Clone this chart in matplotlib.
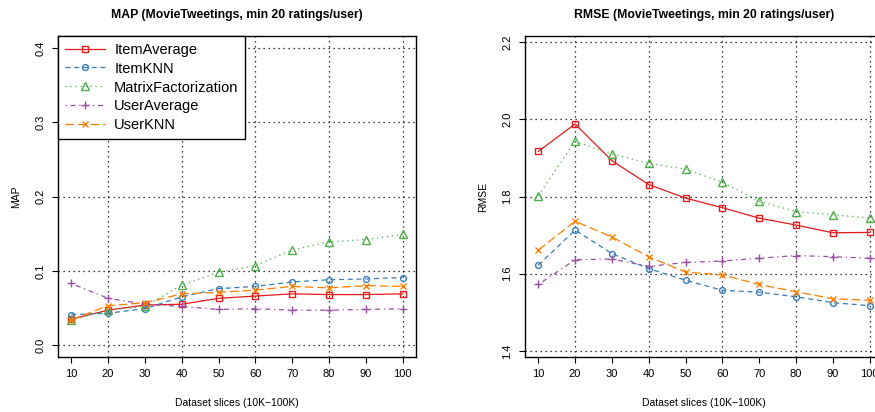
import numpy as np
import matplotlib.pyplot as plt

plt.rcParams['font.family'] = ['Liberation Sans', 'DejaVu Sans']

# Dataset slices
slices = [10, 20, 30, 40, 50, 60, 70, 80, 90, 100]
methods = ['ItemAverage', 'ItemKNN', 'MatrixFactorization', 'UserAverage', 'UserKNN']

# MAP values
map_item_avg = [0.035, 0.047, 0.054, 0.055, 0.063, 0.066, 0.069, 0.068, 0.068, 0.069]
map_item_knn = [0.041, 0.043, 0.049, 0.065, 0.076, 0.079, 0.085, 0.088, 0.089, 0.091]
map_mf = [0.034, 0.047, 0.052, 0.081, 0.098, 0.107, 0.128, 0.139, 0.142, 0.149]
map_user_avg = [0.083, 0.063, 0.055, 0.052, 0.048, 0.049, 0.047, 0.047, 0.048, 0.049]
map_user_knn = [0.034, 0.053, 0.057, 0.069, 0.071, 0.074, 0.079, 0.077, 0.080, 0.079]

# RMSE values
rmse_item_avg = [1.917, 1.988, 1.893, 1.831, 1.796, 1.771, 1.744, 1.726, 1.706, 1.707]
rmse_item_knn = [1.622, 1.713, 1.652, 1.613, 1.583, 1.557, 1.552, 1.540, 1.525, 1.517]
rmse_mf = [1.802, 1.943, 1.910, 1.886, 1.871, 1.837, 1.788, 1.761, 1.753, 1.744]
rmse_user_avg = [1.572, 1.636, 1.638, 1.619, 1.629, 1.633, 1.640, 1.647, 1.644, 1.640]
rmse_user_knn = [1.661, 1.736, 1.695, 1.644, 1.604, 1.597, 1.572, 1.553, 1.535, 1.531]

colors = ['#E41A1C', '#377EB8', '#4DAF4A', '#984EA3', '#FF7F00']
markers = ['s', 'o', '^', '+', 'x']
msizes = [4.2, 4.2, 5.2, 6, 5]
dashes = [(), (4, 3), (1, 3), (1, 3, 4, 3), (7, 3)]

fig = plt.figure(figsize=(8.75, 4.12), dpi=100)
ax1 = fig.add_axes([0.0663, 0.1335, 0.409, 0.779])
ax2 = fig.add_axes([0.600, 0.1335, 0.409, 0.779])


def draw(ax, series, ylim, yticks, ylabel, title):
    for vals, name, c, m, ms, d in zip(series, methods, colors, markers, msizes, dashes):
        ln, = ax.plot(slices, vals, color=c, marker=m, markersize=ms,
                      markerfacecolor='none', markeredgewidth=1.0,
                      lw=0.9, label=name, zorder=3)
        if d:
            ln.set_dashes(d)
    ax.set_xlim(6.4, 103.6)
    ax.set_ylim(*ylim)
    ax.set_xticks(slices)
    ax.set_yticks(yticks)
    ax.set_yticklabels([f'{t:.1f}' for t in yticks], rotation=90, va='center')
    ax.tick_params(labelsize=8, length=4, width=0.8, colors='black', pad=5)
    # dotted grid like R's grid()
    for gx in [20, 40, 60, 80, 100]:
        ax.axvline(gx, color='black', lw=0.9, dashes=(1, 3), zorder=1)
    for gy in yticks:
        ax.axhline(gy, color='black', lw=0.9, dashes=(1, 3), zorder=1)
    for s in ax.spines.values():
        s.set_linewidth(1.0)
    ax.set_xlabel('Dataset slices (10K\u2212100K)', fontsize=7.5, labelpad=13)
    ax.set_ylabel(ylabel, fontsize=7.5, labelpad=10)
    ax.set_title(title, fontsize=8.8, fontweight='bold', pad=13)


draw(ax1, [map_item_avg, map_item_knn, map_mf, map_user_avg, map_user_knn],
     (-0.016, 0.416), [0.0, 0.1, 0.2, 0.3, 0.4], 'MAP',
     'MAP (MovieTweetings, min 20 ratings/user)')
draw(ax2, [rmse_item_avg, rmse_item_knn, rmse_mf, rmse_user_avg, rmse_user_knn],
     (1.384, 2.216), [1.4, 1.6, 1.8, 2.0, 2.2], 'RMSE',
     'RMSE (MovieTweetings, min 20 ratings/user)')

leg = ax1.legend(loc='upper left', borderaxespad=0, fontsize=10.5,
                 handlelength=2.75, handletextpad=0.65, labelspacing=0.34,
                 borderpad=0.45, fancybox=False, framealpha=1, edgecolor='black')
leg.get_frame().set_linewidth(1.0)
leg.set_zorder(5)

fig.savefig('out.png', dpi=100)
